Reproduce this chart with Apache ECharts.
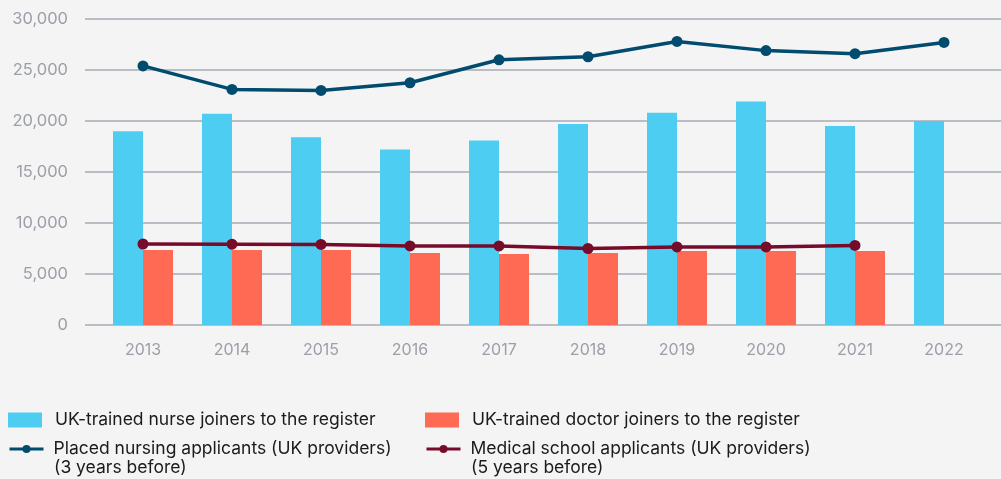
<!DOCTYPE html>
<html><head><meta charset="utf-8">
<script src="https://cdn.jsdelivr.net/npm/echarts@6/dist/echarts.min.js"></script>
<style>html,body{margin:0;padding:0;background:#f4f4f4}#c{width:1001px;height:479px}</style>
</head><body><div id="c"></div>
<script>
const years = ['2013','2014','2015','2016','2017','2018','2019','2020','2021','2022'];
const nurseJoiners = [19000,20700,18400,17200,18100,19700,20800,21900,19500,20000];
const doctorJoiners = [7350,7350,7350,7060,6960,7060,7250,7250,7250,null];
const nursingApplicants = [25400,23100,23000,23750,26000,26300,27800,26900,26600,27700];
const medicalApplicants = [7940,7920,7900,7750,7750,7500,7650,7650,7800,null];
const yTicks = {min:0, max:30000, interval:5000};

const names = ['UK-trained nurse joiners to the register','UK-trained doctor joiners to the register','Placed nursing applicants (UK providers)','Medical school applicants (UK providers)'];
const subNotes = ['(3 years before)','(5 years before)'];

const font = 'Inter';
const fs = 17.5;
const chart = echarts.init(document.getElementById('c'));
const legendText = {color:'#1b1b1b', fontSize:fs, fontFamily:font, padding:[0,0,0,8]};
const lineLegendText = {color:'#1b1b1b', fontSize:fs, fontFamily:font, padding:[0,0,0,5]};
chart.setOption({
  backgroundColor:'#f4f4f4',
  animation:false,
  grid:[
    {left:85, right:0, top:19, bottom:154},
    {left:98.5, right:12.5, top:19, bottom:154}
  ],
  xAxis:[
    {type:'category', gridIndex:0, data:years, show:false},
    {type:'category', gridIndex:1, data:years, boundaryGap:true,
     axisLine:{show:false}, axisTick:{show:false},
     axisLabel:{color:'#9c9ea8', fontSize:16, fontFamily:font, margin:17}}
  ],
  yAxis:[
    {type:'value', gridIndex:0, min:yTicks.min, max:yTicks.max, interval:yTicks.interval,
     axisLine:{show:false}, axisTick:{show:false},
     splitLine:{lineStyle:{color:'#a9abb5', width:1.5}},
     axisLabel:{color:'#9c9ea8', fontSize:16.5, fontFamily:font, margin:17,
       formatter:v=>v.toLocaleString('en-US')}},
    {type:'value', gridIndex:1, min:yTicks.min, max:yTicks.max, interval:yTicks.interval, show:false, splitLine:{show:false}}
  ],
  legend:[
    {data:[names[0]], left:8, top:411, padding:0, itemWidth:34, itemHeight:15, icon:'rect', textStyle:legendText},
    {data:[names[1]], left:425, top:411, padding:0, itemWidth:34, itemHeight:15, icon:'rect', textStyle:legendText},
    {data:[names[2]], left:8, top:440, padding:0, itemWidth:34, itemHeight:10, textStyle:lineLegendText, lineStyle:{width:3}},
    {data:[names[3]], left:425, top:440, padding:0, itemWidth:34, itemHeight:10, textStyle:lineLegendText, lineStyle:{width:3}}
  ],
  graphic:[
    {type:'text', left:54, top:459, style:{text:subNotes[0], fill:'#1b1b1b', fontSize:fs, fontFamily:font}},
    {type:'text', left:471, top:459, style:{text:subNotes[1], fill:'#1b1b1b', fontSize:fs, fontFamily:font}}
  ],
  series:[
    {name:names[0], type:'bar', xAxisIndex:1, yAxisIndex:1, data:nurseJoiners,
     itemStyle:{color:'#4ecdf3'}, barWidth:30, barGap:'0%'},
    {name:names[1], type:'bar', xAxisIndex:1, yAxisIndex:1, data:doctorJoiners,
     itemStyle:{color:'#ff6a55'}, barWidth:30, barGap:'0%'},
    {name:names[2], type:'line', xAxisIndex:1, yAxisIndex:1, data:nursingApplicants,
     lineStyle:{color:'#004b6e', width:3.5}, itemStyle:{color:'#004b6e'},
     symbol:'circle', symbolSize:11, z:5},
    {name:names[3], type:'line', xAxisIndex:1, yAxisIndex:1, data:medicalApplicants,
     lineStyle:{color:'#760b2a', width:3.5}, itemStyle:{color:'#760b2a'},
     symbol:'circle', symbolSize:11, z:5}
  ]
});
</script></body></html>
